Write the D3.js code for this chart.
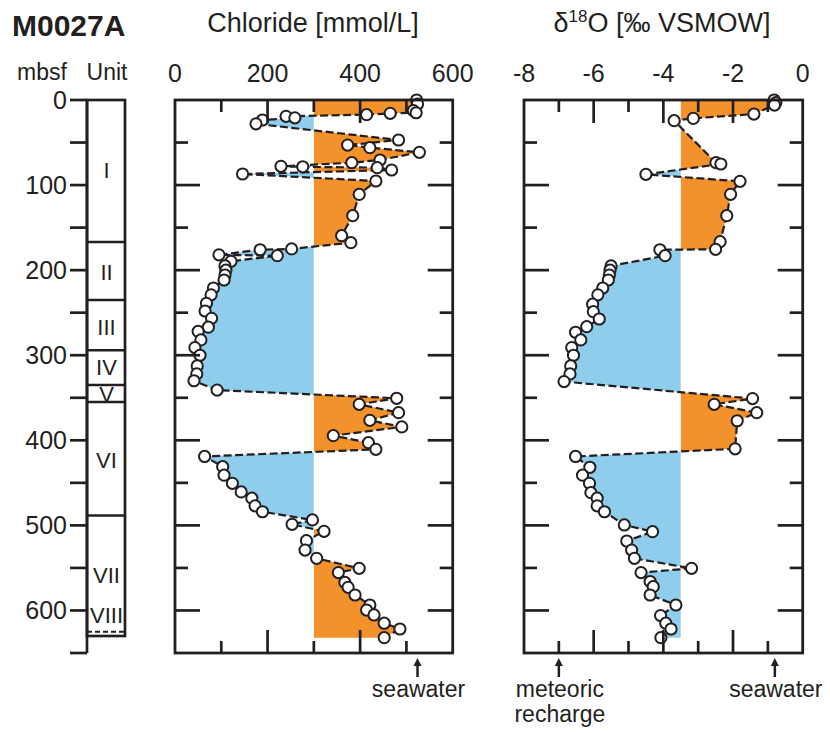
<!DOCTYPE html>
<html>
<head>
<meta charset="utf-8">
<script src="https://cdn.jsdelivr.net/npm/d3@7"></script>
<style>
  body { margin: 0; background: #fff; }
  text { font-family: "Liberation Sans", Arial, sans-serif; fill: #231f20; }
</style>
</head>
<body>
<div id="chart"></div>
<script>
// chloride [mmol/L] by depth [mbsf]
var clDepth = [0, 4.7, 12.5, 15, 15.7, 17.2, 19.2, 21, 23.5, 28, 47, 53, 56, 61.5, 70.5, 73.7, 78, 78.5, 79.5, 82.3, 87, 95.2,
  111, 136, 159.5, 167.7, 175, 176, 182, 183, 189.6, 195, 200, 205.7, 211.6, 221, 229, 239, 248, 256.6, 267, 272, 282, 291,
  300, 312.6, 322, 330, 341, 350.6, 357.7, 367.5, 376.5, 384.3, 394.5, 402.8, 410.6, 419, 431, 441, 450.6, 460.7, 468, 477,
  484, 493.6, 498.8, 507, 518, 529, 538.7, 550.5, 555.5, 567, 572.8, 581.8, 593.6, 599.5, 605.3, 615, 621.8, 632];
var clValue = [522, 524, 515, 521, 465, 414, 240, 259, 189, 175, 483, 373, 421, 528, 443, 382, 229, 276, 437, 468, 146, 434,
  398, 384, 360, 380, 252, 184, 95, 221, 121, 108, 110, 108, 106, 83, 78, 68, 65, 79, 72, 50, 56, 43,
  54, 48, 47, 41, 91, 479, 398, 483, 421, 490, 342, 418, 434, 64, 103, 106, 124, 143, 166, 173,
  189, 297, 253, 322, 284, 281, 306, 398, 353, 367, 374, 389, 421, 414, 430, 452, 486, 452];

// delta 18O [permil VSMOW] by depth [mbsf]
var oDepth = [0, 3, 6, 16.5, 21.6, 24.3, 73.7, 75.2, 87.4, 95.6, 110.9, 136, 166.5, 175.5, 176, 183, 195, 200, 205.7, 211.6,
  221, 229, 240, 248.8, 257.4, 266.4, 273, 282, 291, 300, 312.6, 322, 331, 351, 357.7, 367.5, 377, 410, 419, 431.7, 441,
  450.6, 461.5, 468, 477, 484, 499.5, 507.4, 518.4, 529, 538.7, 550.5, 555.5, 566, 572, 581.8, 593.6, 606, 615, 621.8, 632];
var oValue = [-0.82, -0.77, -0.81, -1.40, -3.14, -3.69, -2.49, -2.35, -4.50, -1.80, -2.07, -2.18, -2.37, -2.50, -4.10, -3.95, -5.50, -5.53, -5.55, -5.58,
  -5.74, -5.88, -6.03, -6.01, -5.84, -6.20, -6.52, -6.37, -6.63, -6.58, -6.66, -6.68, -6.85, -1.44, -2.54, -1.32, -1.88, -1.94, -6.52, -6.11, -6.32,
  -6.12, -6.08, -5.90, -5.90, -5.69, -5.12, -4.31, -5.05, -4.91, -4.83, -3.19, -4.64, -4.38, -4.29, -4.38, -3.64, -4.08, -3.93, -3.78, -4.07];

// lithological units
var unitNames = ["I", "II", "III", "IV", "V", "VI", "VII", "VIII"];
var unitTops = [0, 167, 235, 294, 335, 355, 488.5, 488.5];
var unitBottoms = [167, 235, 294, 335, 355, 488.5, 625, 625];
var unitLabelDepth = [82, 202, 267, 313.5, 345, 423, 558, 605];
var unitBoundaries = [167, 235, 294, 335, 355, 488.5];

var clTicks = [0, 200, 400, 600];
var oTicks = [-8, -6, -4, -2, 0];
var clBase = 300, oBase = -3.5;

var ink = "#231f20", orange = "#f3922b", blue = "#8ecdec";

var svg = d3.select("#chart").append("svg")
  .attr("width", 830).attr("height", 733);

var y = d3.scaleLinear().domain([0, 650]).range([100, 653]);
var xCl = d3.scaleLinear().domain([0, 600]).range([175, 452.7]);
var xO = d3.scaleLinear().domain([-8, 0]).range([524, 802.7]);

// titles
svg.append("text").attr("x", 12).attr("y", 36)
  .style("font-size", "30px").style("font-weight", "bold").text("M0027A");
svg.append("text").attr("x", 313).attr("y", 32).attr("text-anchor", "middle")
  .style("font-size", "27px").text("Chloride [mmol/L]");
var t = svg.append("text").attr("x", 662).attr("y", 32).attr("text-anchor", "middle").style("font-size", "27px");
t.append("tspan").text("\u03b4");
t.append("tspan").attr("dy", -10).style("font-size", "17px").text("18");
t.append("tspan").attr("dy", 10).text("O [\u2030 VSMOW]");

svg.append("text").attr("x", 42).attr("y", 80).attr("text-anchor", "middle").style("font-size", "23px").text("mbsf");
svg.append("text").attr("x", 107).attr("y", 80).attr("text-anchor", "middle").style("font-size", "23px").text("Unit");

// depth axis
var depthTicks = d3.range(0, 651, 50);
var dAx = svg.append("g");
dAx.append("line").attr("x1", 87).attr("x2", 87).attr("y1", y(0)).attr("y2", y(650))
  .attr("stroke", ink).attr("stroke-width", 2.7);
dAx.selectAll("line.tk").data(depthTicks).enter().append("line").attr("class", "tk")
  .attr("x1", 70).attr("x2", 87).attr("y1", function(d) { return y(d); }).attr("y2", function(d) { return y(d); })
  .attr("stroke", ink).attr("stroke-width", 2.7);
dAx.selectAll("text").data(depthTicks.filter(function(d) { return d % 100 === 0; })).enter().append("text")
  .attr("x", 67).attr("y", function(d) { return y(d); }).attr("dy", "0.36em")
  .attr("text-anchor", "end").style("font-size", "25px").text(function(d) { return d; });

// unit column
var uc = svg.append("g");
var defs = svg.append("defs");
unitNames.forEach(function(u, i) {
  defs.append("clipPath").attr("id", "uclip" + i).append("rect")
    .attr("x", 87).attr("width", 38).attr("y", y(unitTops[i])).attr("height", y(unitBottoms[i]) - y(unitTops[i]));
});
uc.selectAll("text").data(unitNames).enter().append("text")
  .attr("clip-path", function(d, i) { return "url(#uclip" + i + ")"; })
  .attr("x", 106.5).attr("y", function(d, i) { return y(unitLabelDepth[i]) + 8; })
  .attr("text-anchor", "middle").style("font-size", "22px").text(function(d) { return d; });
uc.append("rect").attr("x", 87).attr("y", y(0)).attr("width", 38).attr("height", y(630) - y(0))
  .attr("fill", "none").attr("stroke", ink).attr("stroke-width", 2.7);
uc.selectAll("line.b").data(unitBoundaries).enter().append("line").attr("class", "b")
  .attr("x1", 87).attr("x2", 125).attr("y1", function(d) { return y(d); }).attr("y2", function(d) { return y(d); })
  .attr("stroke", ink).attr("stroke-width", 2.5);
uc.append("line").attr("x1", 87).attr("x2", 125).attr("y1", y(625)).attr("y2", y(625))
  .attr("stroke", ink).attr("stroke-width", 2).attr("stroke-dasharray", "5,3");

function panel(id, x, depth, value, base, ticks, minorStep) {
  var g = svg.append("g");
  var data = depth.map(function(d, i) { return {depth: d, value: value[i]}; });
  var x0 = x.range()[0], x1 = x.range()[1];
  var top = y(0), bot = y(650);

  defs.append("clipPath").attr("id", id + "hi").append("rect")
    .attr("x", x(base)).attr("y", top).attr("width", x1 - x(base)).attr("height", bot - top);
  defs.append("clipPath").attr("id", id + "lo").append("rect")
    .attr("x", x0).attr("y", top).attr("width", x(base) - x0).attr("height", bot - top);

  var area = d3.area()
    .y(function(d) { return y(d.depth); })
    .x0(x(base))
    .x1(function(d) { return x(d.value); });
  g.append("path").datum(data).attr("d", area).attr("fill", orange).attr("clip-path", "url(#" + id + "hi)");
  g.append("path").datum(data).attr("d", area).attr("fill", blue).attr("clip-path", "url(#" + id + "lo)");

  var line = d3.line().x(function(d) { return x(d.value); }).y(function(d) { return y(d.depth); });
  g.append("path").datum(data).attr("d", line).attr("fill", "none")
    .attr("stroke", ink).attr("stroke-width", 2.2).attr("stroke-dasharray", "8,3.5");

  g.selectAll("circle").data(data).enter().append("circle")
    .attr("cx", function(d) { return x(d.value); }).attr("cy", function(d) { return y(d.depth); })
    .attr("r", 5.6).attr("fill", "#fff").attr("stroke", ink).attr("stroke-width", 2);

  // frame
  g.append("rect").attr("x", x0).attr("y", top).attr("width", x1 - x0).attr("height", bot - top)
    .attr("fill", "none").attr("stroke", ink).attr("stroke-width", 2.8);

  // value ticks, inside top and bottom
  var vt = d3.range(x.domain()[0] + minorStep, x.domain()[1] - minorStep / 2, minorStep);
  vt.forEach(function(v, i) {
    var len = (i % 2 === 1) ? 23 : 12;
    g.append("line").attr("x1", x(v)).attr("x2", x(v)).attr("y1", top).attr("y2", top + len)
      .attr("stroke", ink).attr("stroke-width", 2.7);
    g.append("line").attr("x1", x(v)).attr("x2", x(v)).attr("y1", bot).attr("y2", bot - len)
      .attr("stroke", ink).attr("stroke-width", 2.7);
  });
  // depth ticks, inside left and right
  d3.range(50, 650, 50).forEach(function(d) {
    var len = (d % 100 === 0) ? 25 : 13;
    g.append("line").attr("x1", x0).attr("x2", x0 + len).attr("y1", y(d)).attr("y2", y(d))
      .attr("stroke", ink).attr("stroke-width", 2.7);
    g.append("line").attr("x1", x1).attr("x2", x1 - len).attr("y1", y(d)).attr("y2", y(d))
      .attr("stroke", ink).attr("stroke-width", 2.7);
  });

  g.selectAll("text.tl").data(ticks).enter().append("text").attr("class", "tl")
    .attr("x", function(d) { return x(d); }).attr("y", 82).attr("text-anchor", "middle")
    .style("font-size", "25px").text(function(d) { return d; });
  return g;
}

panel("cl", xCl, clDepth, clValue, clBase, clTicks, 100);
panel("ox", xO, oDepth, oValue, oBase, oTicks, 1);

// end-member arrows
var markers = [
  {x: xCl(524), lines: ["seawater"]},
  {x: xO(-7), lines: ["meteoric", "recharge"]},
  {x: xO(-0.8), lines: ["seawater"]}
];
markers.forEach(function(m) {
  svg.append("line").attr("x1", m.x).attr("x2", m.x).attr("y1", 677).attr("y2", 664)
    .attr("stroke", ink).attr("stroke-width", 2.5);
  svg.append("path").attr("d", "M" + (m.x - 4) + ",666 L" + m.x + ",658 L" + (m.x + 4) + ",666 Z").attr("fill", ink);
  m.lines.forEach(function(s, i) {
    svg.append("text").attr("x", m.x + 1).attr("y", 697 + i * 25).attr("text-anchor", "middle")
      .style("font-size", "23px").text(s);
  });
});
</script>
</body>
</html>
